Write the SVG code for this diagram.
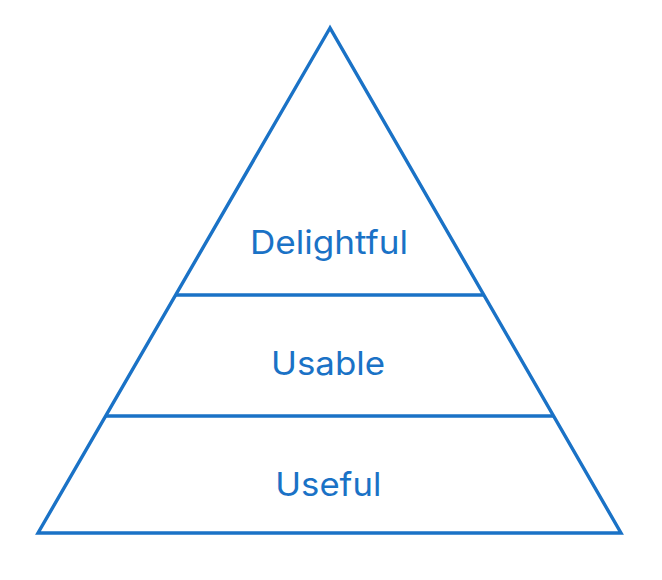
<svg xmlns="http://www.w3.org/2000/svg" width="662" height="580" viewBox="0 0 662 580">
<style>
.ln{fill:none;stroke:#1a72c6;stroke-width:3.4;stroke-linejoin:miter;stroke-linecap:butt}
.lbl{font-family:Inter,"Liberation Sans",sans-serif;font-size:32.5px;fill:#1a72c6;text-anchor:middle}
</style>
<rect width="662" height="580" fill="#ffffff"/>
<g id="pyramid">
<polygon class="ln" points="330,28 38,533 621,533"/>
</g>
<g id="dividers">
<line class="ln" x1="175.6" y1="295" x2="483.9" y2="295"/>
<line class="ln" x1="105.7" y1="416" x2="553.6" y2="416"/>
</g>
<g id="delightful"><text class="lbl" x="329" y="254" textLength="158" lengthAdjust="spacingAndGlyphs">Delightful</text></g>
<g id="usable"><text class="lbl" x="328" y="375" textLength="114" lengthAdjust="spacingAndGlyphs">Usable</text></g>
<g id="useful"><text class="lbl" x="328.3" y="495.5" textLength="106" lengthAdjust="spacingAndGlyphs">Useful</text></g>
</svg>
